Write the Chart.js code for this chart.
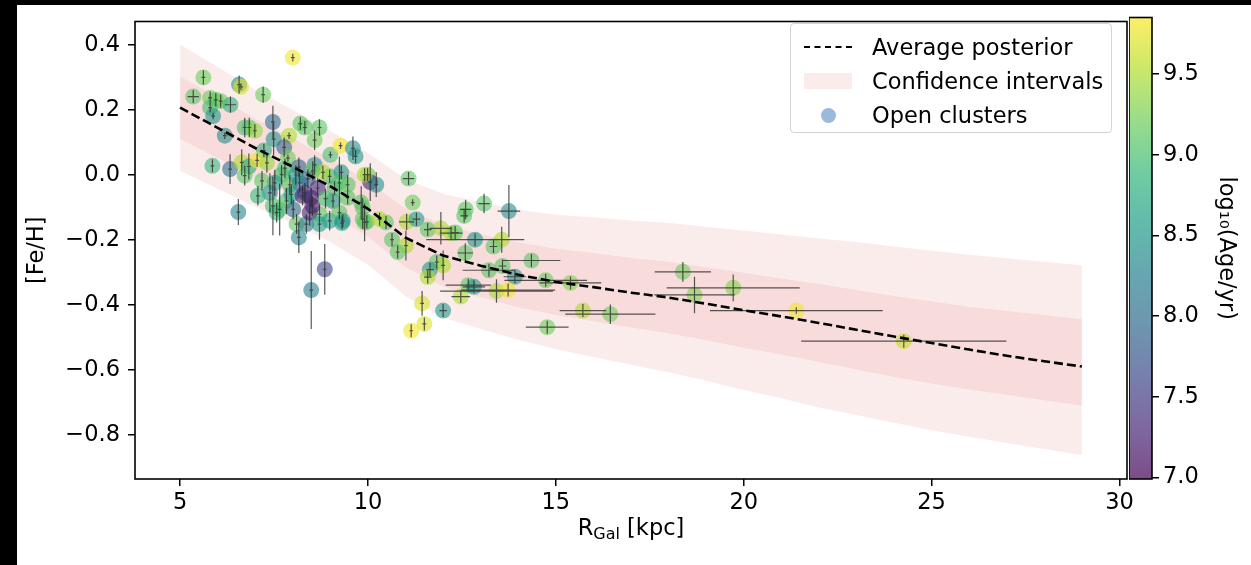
<!DOCTYPE html>
<html>
<head>
<meta charset="utf-8">
<script src="https://cdn.jsdelivr.net/npm/chart.js@4.4.1/dist/chart.umd.min.js"></script>
<style>
  html, body { margin: 0; padding: 0; background: #000; width: 1251px; height: 565px; overflow: hidden; }
  #page { position: absolute; left: 17px; top: 5px; width: 1234px; height: 560px; background: #fff; }
  #main { position: absolute; left: 0; top: 0; }
  #cbar { position: absolute; left: 1129px; top: 0; }
  .txt { font-family: "DejaVu Sans", sans-serif; font-size: 22.5px; color: #000; }
  #xtitle { position: absolute; left: 431px; width: 400px; top: 514px; text-align: center; }
  #xtitle sub { font-size: 16px; vertical-align: -4px; }
  #legend { position: absolute; left: 790px; top: 23px; width: 322px; height: 110px;
            border: 1px solid #d4d4d4; border-radius: 4px; background: rgba(255,255,255,0.8);
            box-sizing: border-box; padding-top: 6px; }
  #legend .row { height: 34px; display: flex; align-items: center; }
  #legend .h { width: 48px; margin-left: 13px; margin-right: 20px; display: flex; align-items: center; justify-content: center; }
  #legend .dash { height: 0; border-top: 2.6px dashed #000; }
  #legend .patch { height: 16px; background: rgba(214,39,40,0.09); }
  #legend .dot span { width: 15px; height: 15px; border-radius: 50%; background: #9cb9db; display: block; }
</style>
</head>
<body>
<div id="page"></div>
<canvas id="main" width="1251" height="565"></canvas>
<canvas id="cbar" width="122" height="565"></canvas>
<div id="xtitle" class="txt">R<sub>Gal</sub> [kpc]</div>
<div id="legend" class="txt">
  <div class="row"><span class="h dash"></span><span>Average posterior</span></div>
  <div class="row"><span class="h patch"></span><span>Confidence intervals</span></div>
  <div class="row"><span class="h dot"><span></span></span><span>Open clusters</span></div>
</div>
<script>
// open clusters: galactocentric radius, metallicity, age, errors
const rGal = [8.00, 5.62, 6.57, 6.62, 5.35, 5.80, 5.95, 6.08, 6.34, 5.80,
  5.88, 7.21, 6.19, 6.72, 6.84, 6.99, 7.47, 7.90, 8.20, 8.32,
  8.71, 8.58, 7.49, 7.77, 7.23, 7.87, 9.00, 9.27, 9.60, 9.67,
  5.86, 6.33, 6.64, 6.83, 7.05, 6.72, 11.08, 11.19, 11.03, 11.29,
  9.99, 10.06, 10.22, 8.98, 9.29, 8.16, 8.58, 8.80, 7.70, 7.52,
  7.92, 8.18, 8.53, 7.83, 7.96, 8.71, 6.55, 7.39, 7.47, 7.65,
  8.01, 8.10, 8.16, 8.36, 8.49, 8.52, 8.45, 8.26, 8.71, 8.98,
  9.31, 9.86, 9.97, 10.48, 8.49, 8.85, 10.64, 11.01, 10.79, 11.59,
  9.91, 9.24, 9.46, 9.11, 9.07, 9.46, 9.82, 9.86, 9.24, 9.33,
  9.91, 10.31, 11.94, 12.21, 12.32, 12.60, 12.56, 13.09, 13.75, 12.85,
  13.56, 13.34, 12.59, 11.83, 12.00, 11.65, 11.59, 13.22, 13.58, 13.91,
  14.35, 14.73, 15.39, 12.67, 12.82, 13.42, 13.73, 12.47, 11.44, 12.00,
  11.50, 11.15, 15.72, 16.45, 14.77, 18.38, 18.69, 19.72, 21.40, 24.26,
  7.79, 8.40, 8.66, 8.32, 8.08, 8.87, 7.57, 7.18, 7.07, 7.31];
const feH = [0.361, 0.300, 0.278, 0.271, 0.241, 0.237, 0.231, 0.227, 0.216, 0.207,
  0.181, 0.247, 0.121, 0.146, 0.146, 0.136, 0.163, 0.121, 0.158, 0.146,
  0.146, 0.107, 0.110, 0.085, 0.075, 0.052, 0.062, 0.090, 0.082, 0.057,
  0.028, 0.018, 0.039, 0.026, 0.045, -0.002, -0.011, -0.085, -0.144, -0.136,
  0.001, -0.022, -0.030, -0.004, 0.008, 0.024, 0.031, 0.008, 0.001, -0.024,
  -0.030, -0.024, 0.012, -0.080, -0.060, -0.121, -0.114, -0.055, -0.095, -0.106,
  -0.106, -0.151, -0.192, -0.151, -0.070, -0.095, -0.116, -0.064, -0.151, -0.141,
  -0.148, -0.136, -0.144, -0.146, -0.354, -0.290, -0.199, -0.217, -0.237, -0.168,
  0.001, -0.024, -0.030, -0.040, -0.080, -0.070, -0.085, -0.100, -0.116, -0.141,
  -0.146, -0.136, -0.164, -0.179, -0.177, -0.106, -0.126, -0.088, -0.111, -0.199,
  -0.199, -0.220, -0.240, -0.268, -0.278, -0.291, -0.314, -0.293, -0.280, -0.313,
  -0.263, -0.324, -0.332, -0.339, -0.344, -0.357, -0.354, -0.374, -0.395, -0.417,
  -0.458, -0.479, -0.417, -0.428, -0.468, -0.298, -0.369, -0.347, -0.417, -0.511,
  0.021, -0.012, -0.040, -0.055, 0.000, -0.073, -0.116, -0.018, -0.064, 0.037];
const logAge = [9.8, 9.2, 8.4, 9.7, 9.1, 9.2, 9.1, 9.2, 8.8, 9.0,
  8.5, 9.2, 8.4, 9.0, 9.1, 9.4, 8.0, 9.5, 9.1, 9.1,
  9.1, 9.2, 8.5, 7.9, 8.8, 9.2, 9.0, 9.8, 8.4, 8.5,
  8.9, 8.1, 9.5, 8.7, 9.8, 9.1, 9.1, 9.2, 9.5, 8.6,
  9.2, 7.3, 8.4, 9.0, 8.5, 7.9, 8.5, 9.5, 9.0, 8.6,
  9.1, 7.9, 9.1, 9.0, 8.6, 9.1, 8.3, 8.4, 9.0, 9.1,
  8.0, 9.1, 8.3, 8.2, 7.2, 7.2, 7.3, 7.3, 8.6, 8.6,
  8.6, 9.1, 9.1, 9.1, 8.2, 7.6, 9.1, 9.5, 9.1, 9.1,
  9.5, 9.1, 9.1, 9.0, 8.5, 9.1, 9.1, 9.1, 9.1, 8.5,
  9.1, 9.5, 9.5, 9.5, 9.1, 9.1, 9.1, 9.1, 8.4, 8.5,
  9.5, 9.1, 9.1, 9.1, 9.5, 8.5, 9.5, 9.1, 9.1, 8.5,
  9.1, 9.2, 9.3, 9.1, 8.5, 9.5, 9.8, 9.5, 9.7, 8.5,
  9.7, 9.8, 9.5, 9.2, 9.2, 9.2, 9.3, 9.3, 9.8, 9.6,
  9.0, 8.0, 7.4, 7.5, 8.6, 9.0, 8.9, 9.1, 8.9, 9.4];
const errR = [0.05, 0.05, 0.05, 0.05, 0.15, 0.05, 0.05, 0.05, 0.15, 0.05,
  0.05, 0.05, 0.05, 0.05, 0.05, 0.05, 0.05, 0.05, 0.05, 0.05,
  0.05, 0.05, 0.05, 0.05, 0.05, 0.05, 0.05, 0.05, 0.05, 0.05,
  0.05, 0.05, 0.05, 0.05, 0.05, 0.05, 0.15, 0.05, 0.20, 0.10,
  0.05, 0.05, 0.05, 0.05, 0.05, 0.05, 0.05, 0.05, 0.05, 0.05,
  0.05, 0.05, 0.05, 0.05, 0.05, 0.05, 0.05, 0.05, 0.05, 0.05,
  0.05, 0.05, 0.05, 0.05, 0.05, 0.05, 0.05, 0.05, 0.05, 0.05,
  0.05, 0.05, 0.05, 0.05, 0.05, 0.05, 0.05, 0.05, 0.05, 0.10,
  0.05, 0.05, 0.05, 0.05, 0.05, 0.05, 0.05, 0.05, 0.05, 0.05,
  0.05, 0.05, 0.30, 0.30, 0.10, 0.15, 0.10, 0.15, 0.30, 1.30,
  0.60, 0.10, 0.20, 0.05, 0.05, 0.10, 0.10, 0.70, 0.10, 0.30,
  0.77, 1.10, 0.82, 0.60, 0.30, 1.50, 1.25, 0.25, 0.05, 0.10,
  0.05, 0.05, 0.62, 1.20, 0.57, 0.75, 1.07, 1.77, 2.30, 2.73,
  0.05, 0.05, 0.05, 0.05, 0.05, 0.05, 0.05, 0.05, 0.05, 0.05];
const errFeH = [0.012, 0.022, 0.028, 0.010, 0.020, 0.020, 0.020, 0.020, 0.025, 0.015,
  0.010, 0.025, 0.010, 0.030, 0.030, 0.020, 0.050, 0.010, 0.020, 0.020,
  0.025, 0.030, 0.050, 0.030, 0.020, 0.010, 0.010, 0.010, 0.036, 0.020,
  0.020, 0.046, 0.040, 0.040, 0.020, 0.030, 0.020, 0.010, 0.025, 0.020,
  0.020, 0.058, 0.038, 0.020, 0.020, 0.030, 0.030, 0.020, 0.030, 0.040,
  0.030, 0.030, 0.030, 0.040, 0.030, 0.030, 0.040, 0.060, 0.090, 0.080,
  0.030, 0.030, 0.048, 0.030, 0.030, 0.030, 0.040, 0.030, 0.048, 0.030,
  0.020, 0.030, 0.020, 0.020, 0.120, 0.078, 0.020, 0.046, 0.020, 0.020,
  0.020, 0.080, 0.030, 0.020, 0.020, 0.020, 0.050, 0.030, 0.020, 0.020,
  0.058, 0.020, 0.050, 0.020, 0.020, 0.030, 0.020, 0.030, 0.080, 0.020,
  0.040, 0.020, 0.030, 0.020, 0.046, 0.020, 0.020, 0.020, 0.020, 0.020,
  0.020, 0.020, 0.020, 0.020, 0.020, 0.036, 0.020, 0.020, 0.038, 0.020,
  0.020, 0.020, 0.020, 0.030, 0.020, 0.030, 0.056, 0.041, 0.010, 0.020,
  0.030, 0.030, 0.030, 0.030, 0.030, 0.030, 0.030, 0.030, 0.030, 0.030];

// posterior gradient and its two confidence bands
const gridR = [5, 6, 7, 8, 9, 10, 11, 12, 13, 14, 15, 16, 17, 18, 19, 20, 21, 22, 23, 24, 25, 26, 27, 28, 29];
const meanFeH = [0.207, 0.145, 0.083, 0.025, -0.035, -0.104, -0.193, -0.248, -0.279, -0.307, -0.329, -0.345, -0.362,
  -0.377, -0.396, -0.416, -0.435, -0.455, -0.476, -0.497, -0.517, -0.537, -0.556, -0.573, -0.589];
const innerHi = [0.303, 0.238, 0.173, 0.112, 0.050, -0.019, -0.103, -0.153, -0.182, -0.207, -0.227, -0.240, -0.255,
  -0.267, -0.284, -0.301, -0.318, -0.335, -0.354, -0.372, -0.389, -0.405, -0.418, -0.431, -0.444];
const innerLo = [0.111, 0.052, -0.007, -0.062, -0.120, -0.189, -0.283, -0.343, -0.376, -0.407, -0.431, -0.450, -0.469,
  -0.487, -0.508, -0.531, -0.552, -0.575, -0.598, -0.621, -0.641, -0.660, -0.676, -0.693, -0.709];
const outerHi = [0.401, 0.332, 0.263, 0.200, 0.136, 0.068, -0.013, -0.058, -0.084, -0.107, -0.122, -0.130, -0.140,
  -0.147, -0.159, -0.171, -0.183, -0.195, -0.206, -0.220, -0.233, -0.245, -0.256, -0.267, -0.278];
const outerLo = [0.013, -0.042, -0.097, -0.150, -0.206, -0.276, -0.373, -0.438, -0.474, -0.507, -0.536, -0.560, -0.584,
  -0.607, -0.633, -0.661, -0.687, -0.715, -0.738, -0.762, -0.785, -0.805, -0.824, -0.843, -0.861];

const xTicks = [5, 10, 15, 20, 25, 30];
const yTicks = [-0.8, -0.6, -0.4, -0.2, 0.0, 0.2, 0.4];
const cbTicks = [7.0, 7.5, 8.0, 8.5, 9.0, 9.5];
const ageMin = 6.99, ageMax = 9.85;

const VIRIDIS = [[68,1,84],[72,40,120],[62,73,137],[49,104,142],[38,130,142],
  [31,158,137],[53,183,121],[110,206,88],[181,222,43],[253,231,37]];
function viridis(t, alpha) {
  t = Math.min(1, Math.max(0, t)) * (VIRIDIS.length - 1);
  const i = Math.min(VIRIDIS.length - 2, Math.floor(t)), f = t - i;
  const c = VIRIDIS[i].map((v, k) => Math.round(v + (VIRIDIS[i + 1][k] - v) * f));
  return `rgba(${c[0]},${c[1]},${c[2]},${alpha})`;
}
const ageColor = (a, alpha) => viridis((a - ageMin) / (ageMax - ageMin), alpha);

const FONT = { family: '"DejaVu Sans", sans-serif', size: 22.5 };
const minus = v => (v < 0 ? '\u2212' : '') + Math.abs(v).toFixed(1);
const pts = arr => gridR.map((r, i) => ({ x: r, y: arr[i] }));

const frame = {
  id: 'frame',
  afterDraw(chart) {
    const { ctx, chartArea: a } = chart;
    ctx.save();
    ctx.strokeStyle = '#000';
    ctx.lineWidth = 1.6;
    ctx.strokeRect(a.left, a.top, a.right - a.left, a.bottom - a.top);
    ctx.restore();
  }
};

const errorBars = {
  id: 'errorBars',
  afterDatasetDraw(chart, args) {
    if (args.index !== 5) return;
    const { ctx, chartArea: a, scales: { x, y } } = chart;
    ctx.save();
    ctx.beginPath();
    ctx.rect(a.left, a.top, a.right - a.left, a.bottom - a.top);
    ctx.clip();
    ctx.strokeStyle = 'rgba(45,45,45,0.8)';
    ctx.lineWidth = 1.2;
    ctx.beginPath();
    rGal.forEach((r, i) => {
      const px = x.getPixelForValue(r), py = y.getPixelForValue(feH[i]);
      ctx.moveTo(x.getPixelForValue(r - errR[i]), py);
      ctx.lineTo(x.getPixelForValue(r + errR[i]), py);
      ctx.moveTo(px, y.getPixelForValue(feH[i] - errFeH[i]));
      ctx.lineTo(px, y.getPixelForValue(feH[i] + errFeH[i]));
    });
    ctx.stroke();
    ctx.restore();
  }
};

const band = (data, fill, order) => ({
  type: 'line', data: pts(data), fill: fill, order: order,
  backgroundColor: 'rgba(214,39,40,0.09)', borderWidth: 0, pointRadius: 0, tension: 0
});

new Chart(document.getElementById('main'), {
  type: 'scatter',
  data: {
    datasets: [
      band(outerHi, '+1', 4),
      band(outerLo, false, 4),
      band(innerHi, '+1', 3),
      band(innerLo, false, 3),
      {
        type: 'line', label: 'Average posterior', data: pts(meanFeH), order: 0,
        borderColor: '#000', borderWidth: 2.6, borderDash: [9, 4], pointRadius: 0, fill: false, tension: 0
      },
      {
        label: 'Open clusters', order: 1,
        data: rGal.map((r, i) => ({ x: r, y: feH[i] })),
        backgroundColor: logAge.map(a => ageColor(a, 0.6)),
        pointRadius: 8, pointHoverRadius: 8, borderWidth: 0
      }
    ]
  },
  options: {
    responsive: false,
    animation: false,
    layout: { padding: { left: 0, top: 17, right: 124, bottom: 0 } },
    plugins: { legend: { display: false }, tooltip: { enabled: false } },
    scales: {
      x: {
        type: 'linear', min: 3.8, max: 30.2,
        afterBuildTicks: s => { s.ticks = xTicks.map(v => ({ value: v })); },
        afterFit: s => { s.height = 86; },
        ticks: { font: FONT, color: '#000', padding: 4, maxRotation: 0, callback: v => String(v) },
        grid: { drawOnChartArea: false, drawTicks: true, tickLength: 7, color: '#000', lineWidth: 1.5 },
        border: { display: false }
      },
      y: {
        min: -0.935, max: 0.472,
        afterBuildTicks: s => { s.ticks = yTicks.map(v => ({ value: v })); },
        afterFit: s => { s.width = 135; },
        ticks: { font: FONT, color: '#000', padding: 8, callback: v => minus(v) },
        grid: { drawOnChartArea: false, drawTicks: true, tickLength: 7, color: '#000', lineWidth: 1.5 },
        border: { display: false },
        title: { display: true, text: '[Fe/H]', font: FONT, color: '#000', padding: { top: 24, bottom: 0 } }
      }
    }
  },
  plugins: [frame, errorBars]
});

// colour bar for log10 age
new Chart(document.getElementById('cbar'), {
  type: 'bar',
  data: {
    labels: [''],
    datasets: [{
      data: [[ageMin, ageMax]],
      barPercentage: 1, categoryPercentage: 1, borderWidth: 0,
      backgroundColor: ctx => {
        const { chart } = ctx;
        const y = chart.scales.y;
        if (!chart.chartArea || !y) return 'rgba(0,0,0,0)';
        const g = chart.ctx.createLinearGradient(0, y.getPixelForValue(ageMin), 0, y.getPixelForValue(ageMax));
        VIRIDIS.forEach((c, i) => g.addColorStop(i / (VIRIDIS.length - 1), `rgba(${c[0]},${c[1]},${c[2]},0.7)`));
        return g;
      }
    }]
  },
  options: {
    responsive: false,
    animation: false,
    layout: { padding: { left: 0, top: 17, right: 0, bottom: 86 } },
    plugins: { legend: { display: false }, tooltip: { enabled: false } },
    scales: {
      x: { display: false },
      y: {
        position: 'right', min: ageMin, max: ageMax,
        afterBuildTicks: s => { s.ticks = cbTicks.map(v => ({ value: v })); },
        afterFit: s => { s.width = 99; },
        ticks: { font: FONT, color: '#000', padding: 4, callback: v => v.toFixed(1) },
        grid: { drawOnChartArea: false, drawTicks: true, tickLength: 7, color: '#000', lineWidth: 1.5 },
        border: { display: false },
        title: { display: true, text: 'log\u2081\u2080(Age/yr)', font: FONT, color: '#000', padding: { top: 12, bottom: 0 } }
      }
    }
  },
  plugins: [frame]
});
</script>
</body>
</html>
